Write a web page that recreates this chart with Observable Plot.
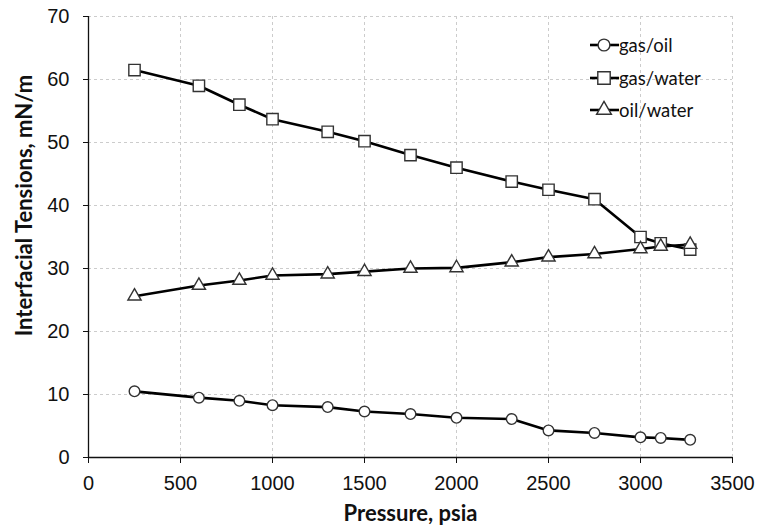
<!DOCTYPE html>
<html><head><meta charset="utf-8">
<script src="https://cdn.jsdelivr.net/npm/d3@7"></script>
<script src="https://cdn.jsdelivr.net/npm/@observablehq/plot@0.6"></script>
<style>
body{margin:0;background:#fff;}
#wrap{position:relative;width:757px;height:528px;}
#legend{position:absolute;left:588px;top:29px;font-family:Lato,"Liberation Sans",sans-serif;font-size:18.5px;color:#111;}
.row{display:flex;align-items:center;height:32.5px;}
.row svg{margin-right:0;}
</style></head>
<body><div id="wrap"><div id="legend"></div></div>
<script>
const pressure = [250, 600, 820, 1000, 1300, 1500, 1750, 2000, 2300, 2500, 2750, 3000, 3110, 3270];
const gasOil   = [10.5, 9.5, 9.0, 8.3, 8.0, 7.3, 6.9, 6.3, 6.1, 4.3, 3.9, 3.2, 3.1, 2.8];
const gasWater = [61.5, 59.0, 56.0, 53.7, 51.7, 50.2, 48.0, 46.0, 43.8, 42.5, 41.0, 35.0, 34.0, 33.0];
const oilWater = [25.6, 27.3, 28.1, 28.9, 29.1, 29.5, 30.0, 30.1, 31.0, 31.8, 32.3, 33.1, 33.5, 33.8];
const seriesNames = ["gas/oil", "gas/water", "oil/water"];
const xTicks = [0, 500, 1000, 1500, 2000, 2500, 3000, 3500];
const yTicks = [0, 10, 20, 30, 40, 50, 60, 70];

const symbols = {"gas/oil": "circle", "gas/water": "square", "oil/water": "triangle"};
const radius = {"gas/oil": 5.3, "gas/water": 6.4, "oil/water": 4.9};
const values = {"gas/oil": gasOil, "gas/water": gasWater, "oil/water": oilWater};
const data = seriesNames.flatMap(s => pressure.map((p, i) => ({series: s, p, v: values[s][i]})));

const tickFont = "'Liberation Sans', Arial, sans-serif";
const titleFont = "Lato, 'Liberation Sans', sans-serif";

const marks = [
  Plot.gridX(xTicks.slice(1), {stroke: "#cccccc", strokeOpacity: 1, strokeDasharray: "3,3"}),
  Plot.gridY(yTicks.slice(1), {stroke: "#cccccc", strokeOpacity: 1, strokeDasharray: "3,3"}),
  Plot.axisX({ticks: xTicks, tickFormat: d => String(d), tickSize: 6, tickPadding: 12, label: null, fontSize: 20, fontFamily: tickFont, color: "#111"}),
  Plot.axisY({ticks: yTicks, tickFormat: d => String(d), tickSize: 5, tickPadding: 14, label: null, fontSize: 20, fontFamily: tickFont, color: "#111"}),
  Plot.ruleX([0], {stroke: "#111", strokeWidth: 1.3}),
  Plot.ruleY([0], {stroke: "#111", strokeWidth: 1.3}),
];
for (const s of seriesNames) {
  const d = data.filter(r => r.series === s);
  marks.push(Plot.line(d, {x: "p", y: "v", stroke: "#000", strokeWidth: 2.6}));
}
for (const s of seriesNames) {
  const d = data.filter(r => r.series === s);
  marks.push(Plot.dot(d, {x: "p", y: "v", symbol: () => symbols[s], r: radius[s], fill: "#fff", stroke: "#333", strokeWidth: 1.4}));
}
marks.push(Plot.text(["Pressure, psia"], {frameAnchor: "bottom", lineAnchor: "middle", dy: 56, fontSize: 22, fontWeight: "bold", fontFamily: titleFont, fill: "#111"}));
marks.push(Plot.text(["Interfacial Tensions, mN/m"], {frameAnchor: "top-left", lineAnchor: "middle", textAnchor: "middle", rotate: -90, dx: -64, dy: 189, fontSize: 22, fontWeight: "bold", fontFamily: titleFont, fill: "#111"}));

const chart = Plot.plot({
  width: 757, height: 528,
  marginLeft: 88, marginRight: 25, marginTop: 16, marginBottom: 71,
  x: {domain: [0, 3500]},
  y: {domain: [0, 70]},
  symbol: {type: "identity"},
  style: {background: "#fff", overflow: "visible", fontFamily: tickFont},
  marks
});
document.getElementById("wrap").prepend(chart);

const legend = document.getElementById("legend");
for (const s of seriesNames) {
  const row = document.createElement("div");
  row.className = "row";
  const svg = d3.create("svg").attr("width", 31).attr("height", 20);
  svg.append("line").attr("x1", 2).attr("x2", 31).attr("y1", 10).attr("y2", 10).attr("stroke", "#000").attr("stroke-width", 2.6);
  const sym = s === "gas/oil" ? d3.symbolCircle : s === "gas/water" ? d3.symbolSquare : d3.symbolTriangle;
  const r = radius[s] + 0.6;
  svg.append("path").attr("transform", "translate(16,10)").attr("d", d3.symbol(sym, Math.PI * r * r)())
    .attr("fill", "#fff").attr("stroke", "#333").attr("stroke-width", 1.4);
  row.appendChild(svg.node());
  const t = document.createElement("span");
  t.textContent = s;
  row.appendChild(t);
  legend.appendChild(row);
}
</script></body></html>
